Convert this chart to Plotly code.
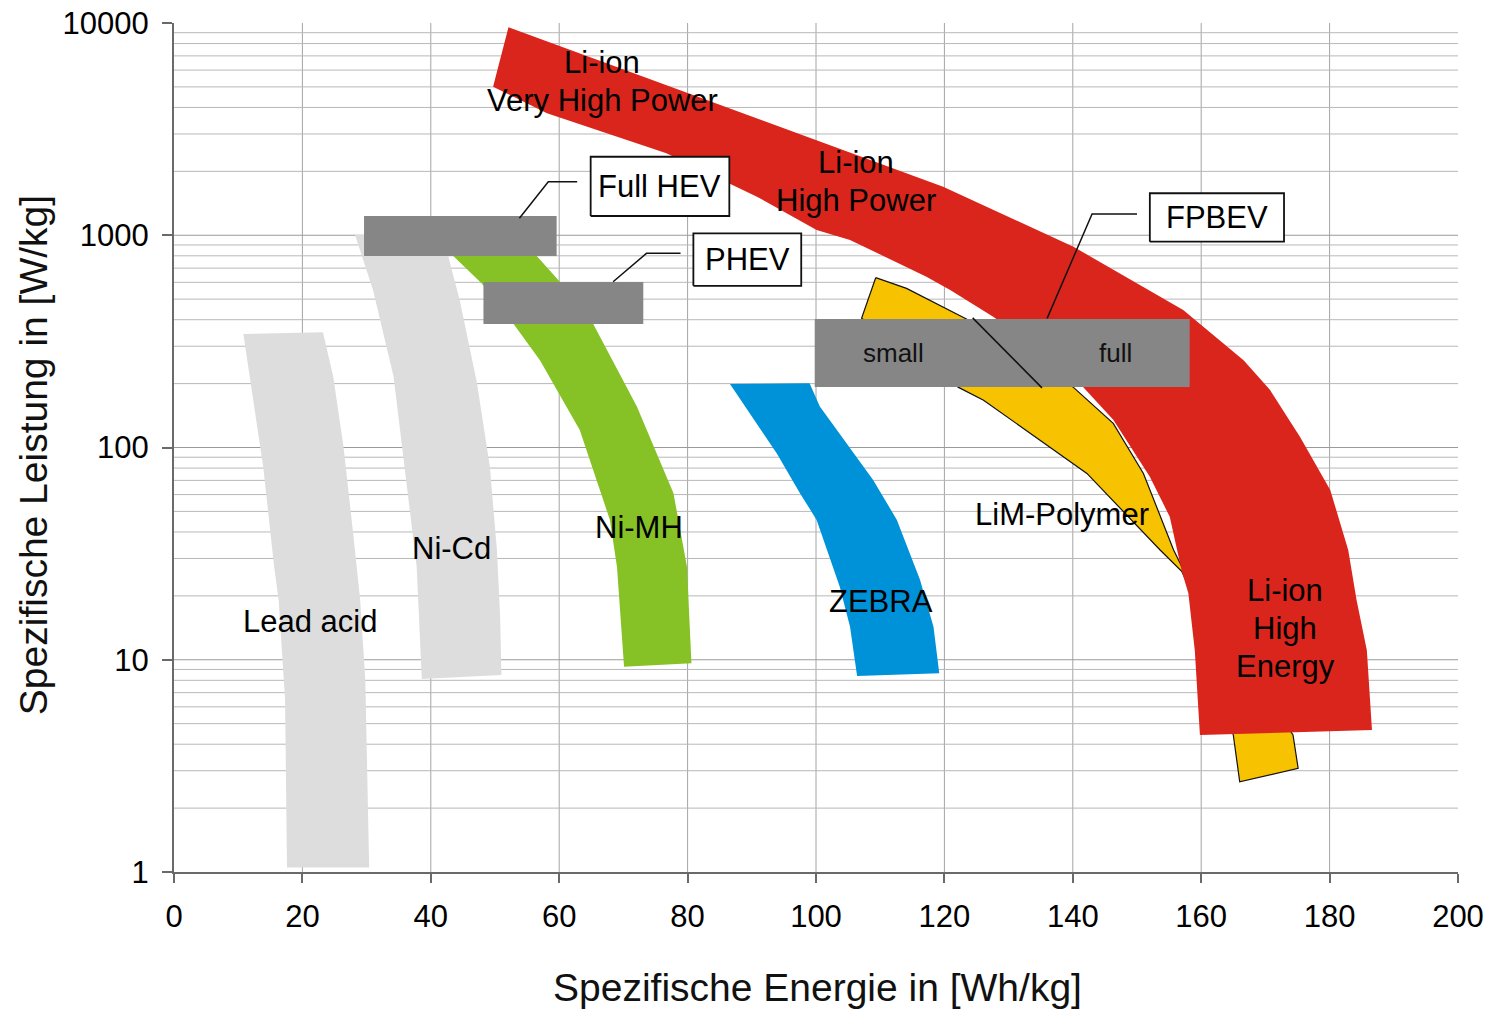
import numpy as np
import plotly.graph_objects as go

# ---- Region outlines: specific energy [Wh/kg] vs. specific power [W/kg] ----
lead_acid_energy = [10.8, 23.2, 24.8, 26.4, 27.9, 29.0, 29.8, 30.0, 30.4, 17.6, 17.3, 16.3, 15.6, 13.9, 12.4]
lead_acid_power = [343, 349, 216, 101, 39.5, 19.1, 8.0, 4.5, 1.05, 1.05, 6.5, 19.1, 27.4, 81, 167]

nicd_energy = [28.2, 41.9, 42.7, 44.5, 47.2, 49.2, 50.3, 50.8, 51.0, 38.6, 37.8, 36.2, 34.2, 31.0]
nicd_power = [1003, 1003, 798, 495, 201, 81.2, 32.9, 15.95, 8.48, 8.12, 27.4, 67.8, 216, 552]

nimh_energy = [43.5, 56.5, 60.1, 65.3, 72.1, 77.8, 79.9, 80.6, 70.1, 69.0, 67.9, 63.2, 57.0, 52.9, 47.9]
nimh_power = [798, 798, 604, 382, 156, 60.9, 27.4, 9.62, 9.27, 27.4, 45.6, 121, 258, 382, 594]

zebra_energy = [86.6, 99.0, 100.6, 108.9, 112.6, 116.2, 118.3, 119.2, 106.4, 105.3, 103.7, 100.1, 97.5, 93.9]
zebra_power = [199, 201, 156, 70.3, 45.6, 23.8, 14.3, 8.63, 8.38, 14.3, 22.1, 45.6, 60.9, 93.7]

lim_polymer_energy = [109.3, 114.1, 123.2, 133.3, 140.1, 146.3, 151.0, 155.7, 157.5, 174.3, 175.1,
                      166.0, 165.0, 159.0, 157.0, 153.6, 142.2, 126.1, 122.2, 107.1]
lim_polymer_power = [631, 562, 406, 282, 192, 130, 75.5, 32.9, 25.5, 4.42, 3.08,
                     2.66, 4.42, 19.1, 26.0, 32.9, 75.5, 167, 192, 406]

li_ion_energy = [52.1, 119.8, 140.1, 157.2, 166.6, 170.7, 175.4, 180.1, 182.9, 184.2, 185.8, 186.6,
                 159.8, 159.0, 158.0, 157.0, 155.1, 152.0, 146.3, 141.6, 134.9, 127.6, 120.9, 117.2,
                 105.3, 100.1, 90.8, 76.7, 58.1, 49.7]
li_ion_power = [9550, 1694, 883, 444, 258, 187, 112, 63.1, 32.9, 19.1, 11.1, 4.67,
                4.42, 11.1, 20.6, 26.0, 47.2, 72.9, 135, 193, 288, 413, 552, 638,
                950, 1059, 1520, 2432, 3755, 5012]

# ---- Vehicle requirement windows (energy range, power range) ----
full_hev_energy = [29.6, 59.6]
full_hev_power = [798, 1232]
phev_energy = [48.2, 73.1]
phev_power = [382, 602]
fpbev_energy = [99.8, 158.2]
fpbev_power = [193, 403]

# ---- Callout boxes and leader lines ----
full_hev_box_energy = [64.9, 86.5]
full_hev_box_power = [1232, 2344]
phev_box_energy = [80.9, 97.7]
phev_box_power = [578, 1021]
fpbev_box_energy = [152.0, 172.9]
fpbev_box_power = [933, 1577]

full_hev_leader_energy = [62.8, 58.3, 53.8]
full_hev_leader_power = [1788, 1788, 1202]
phev_leader_energy = [78.9, 73.6, 68.4]
phev_leader_power = [822, 822, 604]
fpbev_leader_energy = [150.0, 143.0, 136.0]
fpbev_leader_power = [1259, 1259, 406]
fpbev_split_energy = [124.4, 135.2]
fpbev_split_power = [408, 191]

# ---- Axis ticks ----
x_ticks = [0, 20, 40, 60, 80, 100, 120, 140, 160, 180, 200]
y_ticks = [1, 10, 100, 1000, 10000]
y_ticktext = ["1", "10", "100", "1000", "10000"]

# ---- Labels (text lines and the centre of each label block) ----
region_labels = [["Lead acid"], ["Ni-Cd"], ["Ni-MH"], ["ZEBRA"], ["LiM-Polymer"],
                 ["Li-ion", "Very High Power"], ["Li-ion", "High Power"], ["Li-ion", "High", "Energy"]]
region_label_pos = [(21.2, 15.2), (43.3, 33.6), (72.4, 42.2), (110.1, 18.9), (138.3, 48.1),
                    (66.7, 5300), (106.3, 1782), (173.1, 14.1)]

FONT = "Liberation Sans, Arial, sans-serif"
RED = "#DA251D"
YELLOW = "#F7C300"
GREEN = "#86C226"
BLUE = "#0092D8"
LIGHT = "#DDDDDD"
DARK = "#868686"
LINE_STEP = 38  # px between stacked label lines


def rect(xr, yr):
    return [xr[0], xr[1], xr[1], xr[0], xr[0]], [yr[0], yr[0], yr[1], yr[1], yr[0]]


fig = go.Figure()


def area(x, y, fill, outline=None, width=0):
    fig.add_trace(go.Scatter(
        x=list(x) + [x[0]], y=list(y) + [y[0]], mode="lines", fill="toself",
        fillcolor=fill, hoverinfo="skip",
        line=dict(color=outline or fill, width=width if outline else 0),
    ))


area(lead_acid_energy, lead_acid_power, LIGHT)
area(nicd_energy, nicd_power, LIGHT)
area(nimh_energy, nimh_power, GREEN)
area(zebra_energy, zebra_power, BLUE)
area(lim_polymer_energy, lim_polymer_power, YELLOW, outline="#111111", width=1.2)
area(li_ion_energy, li_ion_power, RED)

for xr, yr in [(full_hev_energy, full_hev_power), (phev_energy, phev_power), (fpbev_energy, fpbev_power)]:
    rx, ry = rect(xr, yr)
    area(rx[:-1], ry[:-1], DARK)

for lx, ly in [(full_hev_leader_energy, full_hev_leader_power),
               (phev_leader_energy, phev_leader_power),
               (fpbev_leader_energy, fpbev_leader_power),
               (fpbev_split_energy, fpbev_split_power)]:
    fig.add_trace(go.Scatter(x=lx, y=ly, mode="lines", hoverinfo="skip",
                             line=dict(color="#111111", width=1.5)))

box_texts = ["Full HEV", "PHEV", "FPBEV"]
boxes = [(full_hev_box_energy, full_hev_box_power),
         (phev_box_energy, phev_box_power),
         (fpbev_box_energy, fpbev_box_power)]
for (xr, yr) in boxes:
    bx, by = rect(xr, yr)
    fig.add_trace(go.Scatter(x=bx, y=by, mode="lines", fill="toself", fillcolor="white",
                             hoverinfo="skip", line=dict(color="#111111", width=1.8)))

annotations = []
for txt, (xr, yr) in zip(box_texts, boxes):
    annotations.append(dict(x=np.mean(xr), y=np.mean(np.log10(yr)), text=txt, showarrow=False,
                            xanchor="center", yanchor="middle",
                            font=dict(size=31, color="black", family=FONT)))

for lines, (ex, pw) in zip(region_labels, region_label_pos):
    n = len(lines)
    for i, line in enumerate(lines):
        annotations.append(dict(x=ex, y=np.log10(pw), text=line, showarrow=False,
                                xanchor="center", yanchor="middle",
                                yshift=((n - 1) / 2 - i) * LINE_STEP,
                                font=dict(size=31, color="black", family=FONT)))

fp_mid = np.mean(np.log10(fpbev_power))
annotations.append(dict(x=112.1, y=fp_mid, text="small", showarrow=False,
                        xanchor="center", yanchor="middle",
                        font=dict(size=26, color="#111111", family=FONT)))
annotations.append(dict(x=146.6, y=fp_mid, text="full", showarrow=False,
                        xanchor="center", yanchor="middle",
                        font=dict(size=26, color="#111111", family=FONT)))

# Axis titles
annotations.append(dict(xref="paper", yref="paper", x=0.5008, y=-0.1366,
                        xanchor="center", yanchor="middle",
                        text="Spezifische Energie in [Wh/kg]", showarrow=False,
                        font=dict(size=39, color="#111111", family=FONT)))
annotations.append(dict(xref="paper", yref="paper", x=-0.1098, y=0.491, textangle=-90,
                        xanchor="center", yanchor="middle",
                        text="Spezifische Leistung in [W/kg]", showarrow=False,
                        font=dict(size=39, color="#111111", family=FONT)))

# Grid lines (drawn below the data)
shapes = []
for gx in x_ticks[1:-1]:
    shapes.append(dict(type="line", xref="x", yref="y", x0=gx, x1=gx, y0=1, y1=10000,
                       line=dict(color="#a4a4a4", width=1), layer="below"))
for dec in range(4):
    for m in range(1, 10):
        v = m * 10 ** dec
        if v == 1:
            continue
        shapes.append(dict(type="line", xref="x", yref="y", x0=0, x1=200, y0=v, y1=v,
                           line=dict(color="#9a9a9a" if m == 1 else "#b8b8b8", width=1),
                           layer="below"))

fig.update_layout(
    width=1491, height=1009,
    margin=dict(l=174, r=33, t=23, b=137),
    paper_bgcolor="white", plot_bgcolor="white",
    showlegend=False, hovermode=False,
    font=dict(family=FONT, color="black"),
    annotations=annotations, shapes=shapes,
    xaxis=dict(range=[0, 200], tickvals=x_ticks, ticks="outside", ticklen=9, tickwidth=1.5,
               tickcolor="#6a6a6a", showline=True, linecolor="#6a6a6a", linewidth=2,
               showgrid=False, zeroline=False, tickfont=dict(size=31, color="black"),
               ticklabelstandoff=7, automargin=False),
    yaxis=dict(type="log", range=[0, 4], tickvals=y_ticks, ticktext=y_ticktext,
               ticks="outside", ticklen=10, tickwidth=1.5, tickcolor="#6a6a6a",
               showline=True, linecolor="#6a6a6a", linewidth=2, showgrid=False,
               zeroline=False, tickfont=dict(size=31, color="black"), ticklabelstandoff=7,
               automargin=False),
)

fig.write_html("out.html")
